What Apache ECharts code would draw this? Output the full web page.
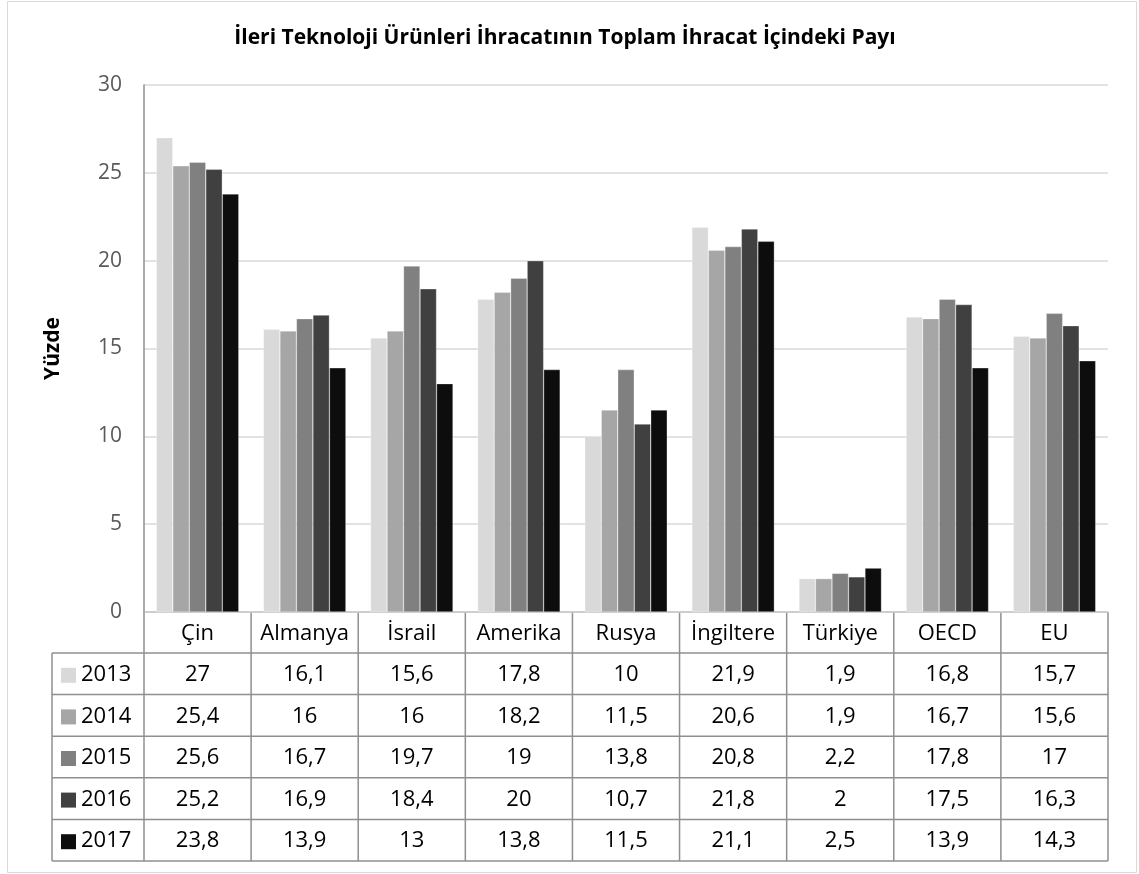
<!DOCTYPE html>
<html>
<head>
<meta charset="utf-8">
<script src="https://cdn.jsdelivr.net/npm/echarts@6/dist/echarts.min.js"></script>
<style>
  html, body { margin: 0; padding: 0; background: #fff; }
  #chart { width: 1139px; height: 874px; }
</style>
</head>
<body>
<div id="chart"></div>
<script>
// Share of high-technology exports in total exports (%)
const categories = ['Çin', 'Almanya', 'İsrail', 'Amerika', 'Rusya', 'İngiltere', 'Türkiye', 'OECD', 'EU'];
const years = ['2013', '2014', '2015', '2016', '2017'];
const values2013 = [27, 16.1, 15.6, 17.8, 10, 21.9, 1.9, 16.8, 15.7];
const values2014 = [25.4, 16, 16, 18.2, 11.5, 20.6, 1.9, 16.7, 15.6];
const values2015 = [25.6, 16.7, 19.7, 19, 13.8, 20.8, 2.2, 17.8, 17];
const values2016 = [25.2, 16.9, 18.4, 20, 10.7, 21.8, 2, 17.5, 16.3];
const values2017 = [23.8, 13.9, 13, 13.8, 11.5, 21.1, 2.5, 13.9, 14.3];
const yTicks = [0, 5, 10, 15, 20, 25, 30];

const seriesValues = [values2013, values2014, values2015, values2016, values2017];
const colors = ['#d9d9d9', '#a6a6a6', '#808080', '#404040', '#0d0d0d'];

const FONT = '"Open Sans", "Noto Sans", sans-serif';
const W = 1139, H = 874;
const plotLeft = 144, plotRight = 1108, plotTop = 85, plotBottom = 612;
const legendLeft = 52;
const headerBottom = 653;
const rowH = 41.6;
const lineColor = '#8f8f8f';
const tableFont = '22px ' + FONT;

const fmt = v => String(v).replace('.', ',');

const chart = echarts.init(document.getElementById('chart'), null, { renderer: 'canvas' });

function buildTable() {
  const els = [];
  const n = categories.length;
  const colW = (plotRight - plotLeft) / n;
  const tableBottom = headerBottom + rowH * years.length;
  const line = (x1, y1, x2, y2) => ({
    type: 'line', silent: true,
    shape: { x1, y1, x2, y2 },
    style: { stroke: lineColor, lineWidth: 1.5 }
  });
  // horizontal rules
  els.push(line(plotLeft, plotBottom, plotRight, plotBottom));
  for (let r = 0; r <= years.length; r++) {
    const y = headerBottom + r * rowH;
    els.push(line(legendLeft, y, plotRight, y));
  }
  // vertical rules
  for (let c = 0; c <= n; c++) {
    const x = plotLeft + c * colW;
    els.push(line(x, plotBottom, x, tableBottom));
  }
  els.push(line(legendLeft, headerBottom, legendLeft, tableBottom));
  // header: category names
  categories.forEach((name, c) => {
    els.push({
      type: 'text', silent: true,
      style: {
        text: name, x: plotLeft + (c + 0.5) * colW, y: (plotBottom + headerBottom) / 2 + 1,
        align: 'center', verticalAlign: 'middle',
        font: tableFont, fill: '#000'
      }
    });
  });
  // rows: legend key + values
  years.forEach((yr, r) => {
    const cy = headerBottom + (r + 0.5) * rowH + 1;
    els.push({
      type: 'rect', silent: true,
      shape: { x: 61, y: cy - 7, width: 15, height: 15 },
      style: { fill: colors[r] }
    });
    els.push({
      type: 'text', silent: true,
      style: {
        text: yr, x: 81, y: cy, align: 'left', verticalAlign: 'middle',
        font: tableFont, fill: '#000'
      }
    });
    seriesValues[r].forEach((v, c) => {
      els.push({
        type: 'text', silent: true,
        style: {
          text: fmt(v), x: plotLeft + (c + 0.5) * colW, y: cy,
          align: 'center', verticalAlign: 'middle',
          font: tableFont, fill: '#000'
        }
      });
    });
  });
  // outer frame
  els.push({
    type: 'rect', silent: true,
    shape: { x: 7.5, y: 1.5, width: W - 10, height: H - 3 },
    style: { fill: null, stroke: '#d9d9d9', lineWidth: 1 }
  });
  return els;
}

const option = {
  animation: false,
  backgroundColor: '#fff',
  title: {
    text: 'İleri Teknoloji Ürünleri İhracatının Toplam İhracat İçindeki Payı',
    left: 560, top: 23, textAlign: 'center',
    textStyle: { fontFamily: FONT, fontSize: 21, fontWeight: 'bold', color: '#000' }
  },
  grid: { left: plotLeft, right: W - plotRight, top: plotTop, bottom: H - plotBottom },
  xAxis: {
    type: 'category',
    data: categories,
    axisLine: { show: false },
    axisTick: { show: false },
    axisLabel: { show: false }
  },
  yAxis: {
    type: 'value',
    min: yTicks[0], max: yTicks[yTicks.length - 1], interval: 5,
    name: 'Yüzde',
    nameLocation: 'middle',
    nameGap: 80,
    nameTextStyle: { fontFamily: FONT, fontSize: 21, fontWeight: 'bold', color: '#000' },
    axisLine: { show: true, lineStyle: { color: '#8f8f8f', width: 1.5 } },
    axisTick: { show: false },
    axisLabel: { fontFamily: FONT, fontSize: 21, color: '#595959', margin: 22 },
    splitLine: { lineStyle: { color: '#d9d9d9', width: 1.5 } }
  },
  series: years.map((yr, i) => ({
    name: yr,
    type: 'bar',
    data: seriesValues[i],
    barGap: '0%',
    barCategoryGap: '23%',
    itemStyle: { color: colors[i], borderColor: 'rgba(255,255,255,0.6)', borderWidth: 0.5 }
  })),
  graphic: buildTable()
};

chart.setOption(option);
</script>
</body>
</html>
